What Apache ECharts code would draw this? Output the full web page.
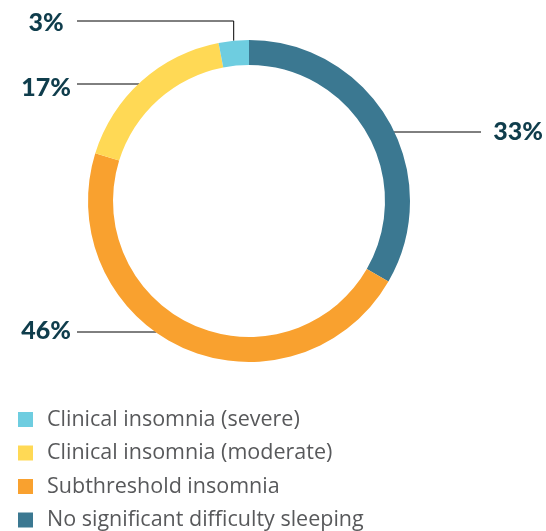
<!DOCTYPE html>
<html>
<head>
<meta charset="utf-8">
<script src="https://cdn.jsdelivr.net/npm/echarts@6/dist/echarts.min.js"></script>
<style>
  html, body { margin: 0; padding: 0; background: #fff; }
  #main { width: 546px; height: 531px; }
</style>
</head>
<body>
<div id="main"></div>
<script>
// legend order (top to bottom)
var categories = ['Clinical insomnia (severe)', 'Clinical insomnia (moderate)', 'Subthreshold insomnia', 'No significant difficulty sleeping'];
var values = [3, 17, 46, 33];
var colors = ['#6ecde0', '#ffd955', '#f9a12f', '#3b7891'];
// order of slices clockwise from 12 o'clock
var sliceOrder = [3, 2, 1, 0];

// label placement (layout only, not data)
var cx = 249, cy = 201, rOut = 161, rIn = 136;
var labelSpots = {
  0: { side: 'left', textY: 23, lineY: 21, elbow: true },
  1: { side: 'left', textY: 88, lineY: 84 },
  2: { side: 'left', textY: 331, lineY: 332 },
  3: { side: 'right', textY: 132, lineY: 132 }
};

var chart = echarts.init(document.getElementById('main'));

var pieData = sliceOrder.map(function (i) {
  return { name: categories[i], value: values[i], itemStyle: { color: colors[i] } };
});

chart.setOption({
  animation: false,
  legend: {
    orient: 'vertical',
    left: 18,
    top: 408.5,
    height: 140,
    padding: 0,
    itemWidth: 15,
    itemHeight: 15,
    itemGap: 11.5,
    icon: 'rect',
    data: categories,
    textStyle: {
      fontFamily: 'Open Sans',
      fontSize: 21.5,
      color: '#58595b',
      padding: [0, 0, 0, 9]
    }
  },
  series: [{
    type: 'pie',
    center: [cx, cy],
    radius: [rIn, rOut],
    startAngle: 90,
    clockwise: true,
    silent: true,
    data: pieData,
    label: {
      show: true,
      position: 'outside',
      formatter: '{c}%',
      fontFamily: 'Lato',
      fontWeight: 900,
      fontSize: 25,
      color: '#0f3d4c'
    },
    labelLine: {
      show: true,
      length: 15,
      length2: 20,
      lineStyle: { color: '#000', width: 1 }
    },
    labelLayout: function (p) {
      var idx = sliceOrder[p.dataIndex];
      var s = labelSpots[idx];
      var pts;
      if (s.side === 'left') {
        if (s.elbow) {
          var p0 = p.labelLinePoints[0];
          pts = [[p0[0], p0[1]], [p0[0], s.lineY], [77, s.lineY]];
        } else {
          var dx = Math.sqrt(rOut * rOut - (s.lineY - cy) * (s.lineY - cy));
          pts = [[cx - dx + 1, s.lineY], [77, s.lineY]];
        }
        return { x: 46, y: s.textY, align: 'center', verticalAlign: 'middle', labelLinePoints: pts };
      }
      var dxr = Math.sqrt(rOut * rOut - (s.lineY - cy) * (s.lineY - cy));
      pts = [[cx + dxr - 1, s.lineY], [481, s.lineY]];
      return { x: 518, y: s.textY, align: 'center', verticalAlign: 'middle', labelLinePoints: pts };
    }
  }]
});
</script>
</body>
</html>
